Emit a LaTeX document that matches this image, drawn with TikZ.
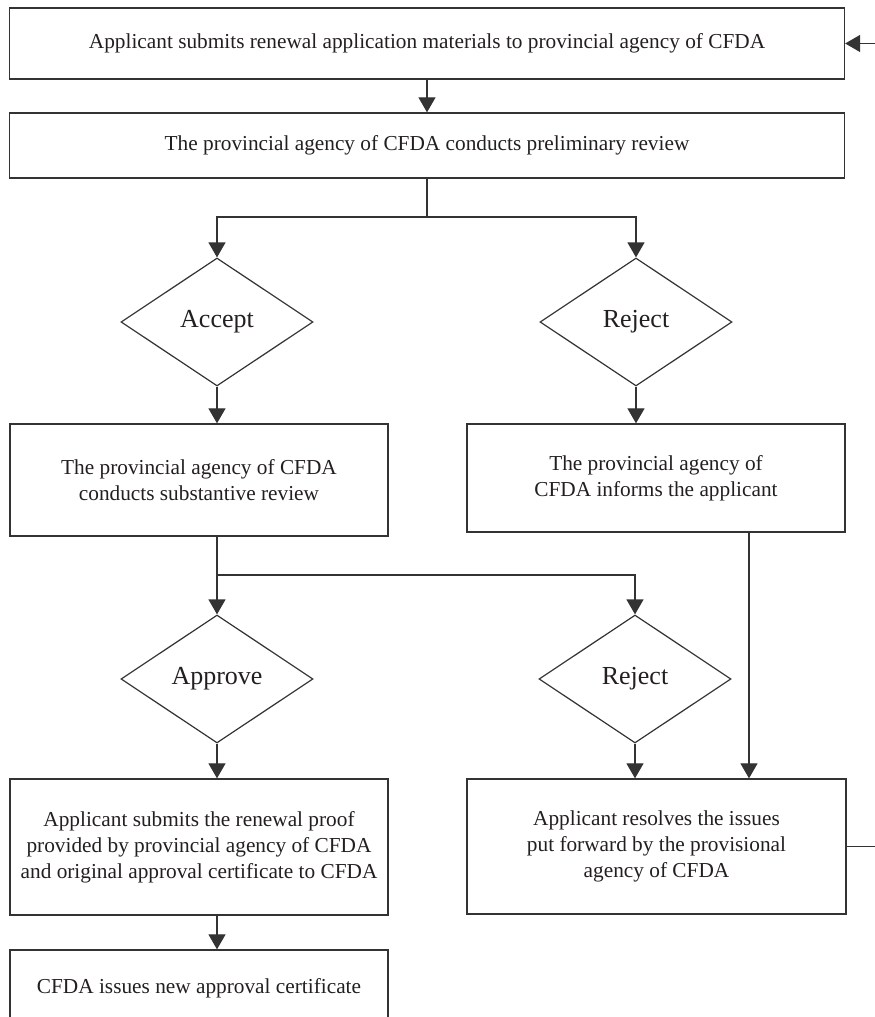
\documentclass[tikz,border=0pt]{standalone}
\usepackage{fontspec}
\setmainfont{Liberation Serif}
\usepackage{tikz}
\usetikzlibrary{positioning,arrows.meta,shapes.geometric}
\definecolor{ink}{HTML}{231F20}
\definecolor{rule}{HTML}{333333}

\begin{document}
\begin{tikzpicture}[x=1pt,y=1pt,
  box/.style={draw=rule,line width=1.3pt,text=ink,align=center,inner sep=0pt,
    font=\fontsize{21.3}{26}\selectfont},
  choice/.style={draw=rule,line width=1.2pt,text=ink,shape=diamond,aspect=1.5,inner sep=0pt,
    minimum width=192pt,minimum height=128pt,font=\fontsize{26}{30}\selectfont},
  flow/.style={draw=rule,line width=1.3pt,-{Triangle[length=15pt,width=17pt]}}]
  \useasboundingbox (0,0) rectangle (875,1017);
  \clip (0,0) rectangle (875,1017);% page is 875 x 1017 px, y counted upwards
  % top row
  \node[box,minimum width=835pt,minimum height=71pt] (submit) at (427,973.5)
    {Applicant submits renewal application materials to provincial agency of CFDA};
  \node[box,minimum width=835pt,minimum height=65pt] (prelim) at (427,871.5)
    {The provincial agency of CFDA conducts preliminary review};
  \coordinate (split1) at (427,800);
  % first decision
  \node[choice] (accept) at (217,695) {Accept};
  \node[choice] (reject) at (636,695) {Reject};
  \node[box,minimum width=378pt,minimum height=112pt] (substantive) at (199,537)
    {The provincial agency of CFDA\\conducts substantive review};
  \node[box,minimum width=378pt,minimum height=108pt] (inform) at (656,539)
    {The provincial agency of\\CFDA informs the applicant};
  \coordinate (split2) at (217,442);
  % second decision
  \node[choice] (approve) at (217,338) {Approve};
  \node[choice] (rejectb) at (635,338) {Reject};
  \node[box,minimum width=378pt,minimum height=136pt] (proof) at (199,170)
    {Applicant submits the renewal proof\\provided by provincial agency of CFDA\\and original approval certificate to CFDA};
  \node[box,minimum width=379pt,minimum height=135pt] (resolve) at (656.5,170.5)
    {Applicant resolves the issues\\put forward by the provisional\\agency of CFDA};
  \node[box,minimum width=378pt,minimum height=76pt] (issue) at (199,29)
    {CFDA issues new approval certificate};
  % connectors
  \draw[flow] (submit) -- (prelim);
  \draw[draw=rule,line width=1.3pt] (prelim) -- (split1);
  \draw[flow] (split1) -| (accept.north);
  \draw[flow] (split1) -| (reject.north);
  \draw[flow] (accept.south) -- (accept.south |- substantive.north);
  \draw[flow] (reject.south) -- (reject.south |- inform.north);
  \draw[draw=rule,line width=1.3pt] (split2 |- substantive.south) -- (split2);
  \draw[flow] (split2) -- (approve.north);
  \draw[flow] (split2) -| (rejectb.north);
  \draw[flow] ([xshift=93pt]inform.south) -- ([xshift=93pt]inform.south |- resolve.north);
  \draw[flow] (approve.south) -- (approve.south |- proof.north);
  \draw[flow] (rejectb.south) -- (rejectb.south |- resolve.north);
  \draw[flow] (approve.south |- proof.south) -- (approve.south |- issue.north);
  \draw[flow] (resolve.east) -- ++(40,0) |- (submit.east);
\end{tikzpicture}
\end{document}
